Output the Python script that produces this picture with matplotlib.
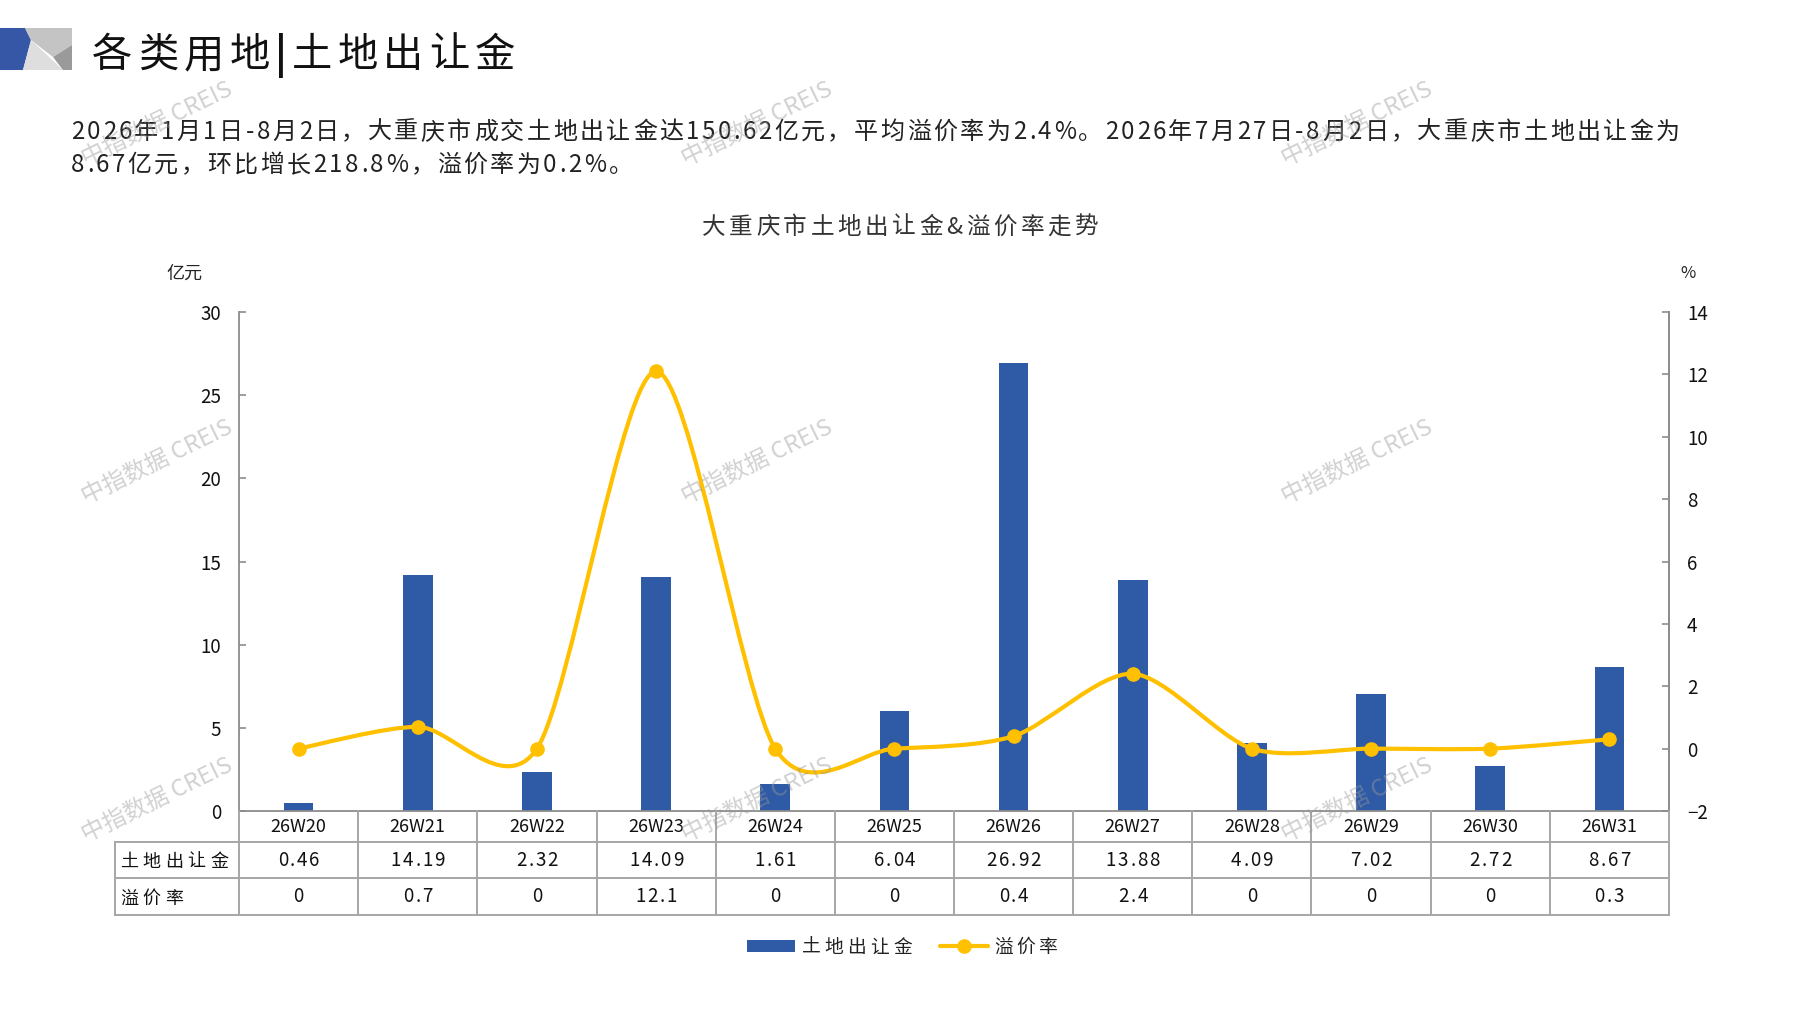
import matplotlib
matplotlib.use("Agg")
import matplotlib.pyplot as plt
import matplotlib.transforms as mtransforms
from matplotlib import font_manager, ft2font
from matplotlib.path import Path
from matplotlib.patches import PathPatch, Polygon, Rectangle
from matplotlib.lines import Line2D
import numpy as np

plt.rcParams['font.family'] = ['Noto Sans CJK SC', 'DejaVu Sans']

# data
weeks = ['26W20', '26W21', '26W22', '26W23', '26W24', '26W25',
         '26W26', '26W27', '26W28', '26W29', '26W30', '26W31']
land_fee = [0.46, 14.19, 2.32, 14.09, 1.61, 6.04, 26.92, 13.88, 4.09, 7.02, 2.72, 8.67]
premium = [0, 0.7, 0, 12.1, 0, 0, 0.4, 2.4, 0, 0, 0, 0.3]
fee_labels = ['0.46', '14.19', '2.32', '14.09', '1.61', '6.04',
              '26.92', '13.88', '4.09', '7.02', '2.72', '8.67']
premium_labels = ['0', '0.7', '0', '12.1', '0', '0', '0.4', '2.4', '0', '0', '0', '0.3']
row_names = ['土地出让金', '溢价率']

title = '各类用地|土地出让金'
para1 = ('2026年1月1日-8月2日，大重庆市成交土地出让金达150.62亿元，平均溢价率为2.4%。'
         '2026年7月27日-8月2日，大重庆市土地出让金为')
para2 = '8.67亿元，环比增长218.8%，溢价率为0.2%。'
chart_title = '大重庆市土地出让金&溢价率走势'

BLUE = '#2F5AA6'
YELLOW = '#FFC000'
GRID = '#A6A6A6'

W, H = 1797, 1010
fig = plt.figure(figsize=(W / 100, H / 100), dpi=100)


def fx(x):
    return x / W


def fy(y):
    return 1 - y / H


# glyph advances, to space characters out like the original
_font = ft2font.FT2Font(font_manager.findfont(font_manager.FontProperties(family='Noto Sans CJK SC')))


def advances(s, size):
    _font.set_size(size, 100)
    return [_font.load_char(ord(ch)).linearHoriAdvance / 65536 for ch in s]


def tracked(x0, base, s, size, track, color='#222222', ha='left', bold_chars=''):
    adv = advances(s, size)
    total = sum(adv) + track * (len(s) - 1)
    if ha == 'center':
        x0 = x0 - total / 2
    xpos = x0
    for ch, a in zip(s, adv):
        fig.text(fx(xpos), fy(base), ch, fontsize=size, color=color, ha='left', va='baseline',
                 fontweight='bold' if ch in bold_chars else 'normal')
        xpos += a + track


# header logo
logo = [
    ([(0, 28), (25, 28), (31, 40), (23, 70), (0, 70)], '#3557A5'),
    ([(25, 28), (72, 28), (72, 45), (53, 57), (31, 40)], '#C4C4C4'),
    ([(31, 40), (63, 70), (23, 70)], '#DEDEDE'),
    ([(72, 45), (72, 70), (63, 70), (53, 57)], '#9A9A9A'),
]
for pts, c in logo:
    fig.patches.append(Polygon([(fx(a), fy(b)) for a, b in pts], closed=True,
                               facecolor=c, edgecolor='none',
                               transform=fig.transFigure, figure=fig))

tracked(92, 67, title, 29, 5.5, color='#111111', bold_chars='|')
tracked(71, 139, para1, 17.3, 2.5)
tracked(71, 172, para2, 17.3, 2.5)
tracked(900, 234, chart_title, 17, 3.6, color='#333333', ha='center')
fig.text(fx(184), fy(274), '亿元', fontsize=13, va='center', ha='center', color='#222222')
fig.text(fx(1688), fy(274), '%', fontsize=12, va='center', ha='center', color='#222222')

# main axes
left, right, top, bottom = 239, 1669, 312, 811
ax = fig.add_axes([fx(left), fy(bottom), (right - left) / W, (bottom - top) / H])
x = np.arange(len(weeks))
ax.bar(x, land_fee, width=0.25, color=BLUE, zorder=2)
ax.set_xlim(-0.5, len(weeks) - 0.5)
ax.set_ylim(0, 30)
ax.set_yticks(range(0, 31, 5))
ax.set_xticks([])
ax.spines['top'].set_visible(False)
for s in ['left', 'right', 'bottom']:
    ax.spines[s].set_color('#8C8C8C')
    ax.spines[s].set_linewidth(1.3)
ax.tick_params(axis='y', direction='in', length=5, width=1.2, color='#8C8C8C',
               pad=13, labelsize=13.5, labelcolor='#111111')

ax2 = ax.twinx()
ax2.set_ylim(-2, 14)
ax2.set_yticks(range(-2, 15, 2))
for s in ['top', 'left', 'bottom']:
    ax2.spines[s].set_visible(False)
ax2.spines['right'].set_color('#8C8C8C')
ax2.spines['right'].set_linewidth(1.3)
ax2.tick_params(axis='y', direction='in', length=5, width=1.2, color='#8C8C8C',
                pad=13, labelsize=13.5, labelcolor='#111111')


# smoothed line like excel's smooth option
def smooth_path(xs, ys, k=1 / 6.0):
    verts = [(xs[0], ys[0])]
    codes = [Path.MOVETO]
    n = len(xs)
    for i in range(n - 1):
        p0 = i - 1 if i > 0 else i
        p3 = i + 2 if i + 2 < n else i + 1
        c1 = (xs[i] + (xs[i + 1] - xs[p0]) * k, ys[i] + (ys[i + 1] - ys[p0]) * k)
        c2 = (xs[i + 1] - (xs[p3] - xs[i]) * k, ys[i + 1] - (ys[p3] - ys[i]) * k)
        verts += [c1, c2, (xs[i + 1], ys[i + 1])]
        codes += [Path.CURVE4] * 3
    return Path(verts, codes)


ax2.add_patch(PathPatch(smooth_path(x, premium, k=0.14), facecolor='none',
                        edgecolor=YELLOW, lw=3, capstyle='round', zorder=3))
ax2.plot(x, premium, 'o', color=YELLOW, markersize=9.5, zorder=4)

# data table below axis
trans = mtransforms.blended_transform_factory(ax.transData, fig.transFigure)
line_kw = dict(color=GRID, lw=1.4, zorder=5)
for yy in [842, 878, 915]:
    fig.add_artist(Line2D([fx(115), fx(right)], [fy(yy), fy(yy)], transform=fig.transFigure, **line_kw))
fig.add_artist(Line2D([fx(115), fx(115)], [fy(842), fy(915)], transform=fig.transFigure, **line_kw))
for i in range(len(weeks) + 1):
    fig.add_artist(Line2D([i - 0.5, i - 0.5], [fy(811), fy(915)], transform=trans, **line_kw))

for i in range(len(weeks)):
    cx = ax.transData.transform((i, 0))[0]
    fig.text(i, fy(826.5), weeks[i], transform=trans, ha='center', va='center', fontsize=13, color='#111111')
    tracked(cx, 866, fee_labels[i], 13.5, 1.8, color='#111111', ha='center')
    tracked(cx, 902.5, premium_labels[i], 13.5, 1.8, color='#111111', ha='center')
tracked(120, 867, row_names[0], 13, 4.5, color='#111111')
tracked(120, 904, row_names[1], 13, 4.5, color='#111111')

# legend, laid out by hand to keep the spaced text
fig.patches.append(Rectangle((fx(747), fy(952)), 48 / W, 12 / H, facecolor=BLUE, edgecolor='none',
                             transform=fig.transFigure, figure=fig))
tracked(802, 953, row_names[0], 13.5, 4)
fig.add_artist(Line2D([fx(940), fx(988)], [fy(946), fy(946)], color=YELLOW, lw=3,
                      solid_capstyle='round', transform=fig.transFigure))
fig.add_artist(Line2D([fx(964)], [fy(946)], color=YELLOW, marker='o', markersize=9.5,
                      transform=fig.transFigure))
tracked(994, 953, row_names[1], 13.5, 4)

# watermarks
for wx in [157, 757, 1357]:
    for wy in [124, 462, 800]:
        fig.text(fx(wx), fy(wy), '中指数据 CREIS', fontsize=17, rotation=26, color='#9A9A9A',
                 alpha=0.45, ha='center', va='center', zorder=10)

fig.savefig('out.png', dpi=100)
